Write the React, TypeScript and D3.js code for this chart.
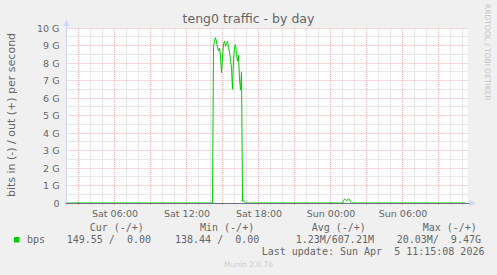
import React from "react";
import * as d3 from "d3";

const W = 497;
const H = 275;

const title = "teng0 traffic - by day";
const yLabel = "bits in (-) / out (+) per second";
const sideText = "RRDTOOL / TOBI OETIKER";
const footer = "Munin 2.0.76";

const yTickValues = [0, 1, 2, 3, 4, 5, 6, 7, 8, 9, 10];
const yTickLabels = ["0", "1 G", "2 G", "3 G", "4 G", "5 G", "6 G", "7 G", "8 G", "9 G", "10 G"];

const startTime = "2026-04-04T02:00";
const endTime = "2026-04-05T11:20";
const xLabelTimes = [
  "2026-04-04T06:00",
  "2026-04-04T12:00",
  "2026-04-04T18:00",
  "2026-04-05T00:00",
  "2026-04-05T06:00",
];

// out (+) traffic, in Gbit/s
const outTimes = [
  "2026-04-04T02:00", "2026-04-04T02:55", "2026-04-04T03:00", "2026-04-04T03:05",
  "2026-04-04T14:05", "2026-04-04T14:10", "2026-04-04T14:15", "2026-04-04T14:20",
  "2026-04-04T14:25", "2026-04-04T14:30", "2026-04-04T14:35", "2026-04-04T14:40",
  "2026-04-04T14:45", "2026-04-04T14:50", "2026-04-04T14:55", "2026-04-04T15:00",
  "2026-04-04T15:05", "2026-04-04T15:10", "2026-04-04T15:15", "2026-04-04T15:20",
  "2026-04-04T15:25", "2026-04-04T15:30", "2026-04-04T15:35", "2026-04-04T15:40",
  "2026-04-04T15:45", "2026-04-04T15:50", "2026-04-04T15:55", "2026-04-04T16:00",
  "2026-04-04T16:05", "2026-04-04T16:10", "2026-04-04T16:15", "2026-04-04T16:20",
  "2026-04-04T16:25", "2026-04-04T16:30", "2026-04-04T16:35", "2026-04-04T16:40",
  "2026-04-04T16:45", "2026-04-04T16:50", "2026-04-04T16:55",
  "2026-04-04T23:55", "2026-04-05T00:00", "2026-04-05T00:05",
  "2026-04-05T01:00", "2026-04-05T01:05", "2026-04-05T01:10", "2026-04-05T01:15",
  "2026-04-05T01:20", "2026-04-05T01:25", "2026-04-05T01:30", "2026-04-05T01:35",
  "2026-04-05T01:40", "2026-04-05T01:45", "2026-04-05T11:15",
];
const outValues = [
  0, 0, 0.06, 0,
  0, 0, 8.9, 9.3,
  9.45, 9.2, 8.9, 8.7,
  8.85, 8.4, 7.45, 8.3,
  9.1, 9.25, 8.95, 9.1,
  9.24, 8.9, 8.6, 8.2,
  7.7, 6.5, 8.2, 8.9,
  9.05, 8.5, 8.1, 8.45,
  7.1, 6.45, 7.5, 0.1,
  0.15, 0.05, 0,
  0, 0.06, 0,
  0, 0.15, 0.22, 0.2,
  0.12, 0.2, 0.22, 0.2,
  0.05, 0, 0,
];

const seriesName = "bps";
const legendHeaders = ["Cur (-/+)", "Min (-/+)", "Avg (-/+)", "Max (-/+)"];
const legendValues = ["149.55 /  0.00", "138.44 /  0.00", "1.23M/607.21M", "20.03M/  9.47G"];
const lastUpdate = "Last update: Sun Apr  5 11:15:08 2026";

const headerX = [89.7, 200, 311.7, 422.7];
const valueX = [66.7, 175, 295.7, 396.7];

export default function App() {
  const left = 66.5;
  const right = 466.5;
  const top = 28;
  const bottom = 203;

  const x = d3.scaleTime().domain([new Date(startTime), new Date(endTime)]).range([left, right]);
  const y = d3.scaleLinear().domain([0, 10]).range([bottom, top]);

  const hourTicks = d3.timeHour.every(1)!.range(new Date(startTime), new Date(endTime));
  const minorV = hourTicks.filter((d) => d.getHours() % 3 !== 0);
  const majorV = hourTicks.filter((d) => d.getHours() % 3 === 0);
  const halfTicks = d3.range(0.5, 10, 1);
  const fmt = d3.timeFormat("%a %H:%M");

  const pts = outTimes.map((t, i) => ({ t: new Date(t), v: outValues[i] }));
  const line = d3
    .line<{ t: Date; v: number }>()
    .x((d) => x(d.t))
    .y((d) => y(d.v));

  const sans = "'DejaVu Sans', sans-serif";
  const mono = "'DejaVu Sans Mono', monospace";
  const fontColor = "#666666";
  const pre = { whiteSpace: "pre" as const };

  const px = (v: number) => Math.round(v - 0.5) + 0.5;

  return (
    <svg width={W} height={H} style={{ position: "absolute", left: 0, top: 0, display: "block" }}>
      <rect x={0} y={0} width={W} height={H} fill="#f0f0f0" />
      <rect x={left} y={top} width={right - left + 1} height={bottom - top} fill="#ffffff" />

      {/* minor grid */}
      <g stroke="#d2d2d2" strokeWidth={1} strokeDasharray="1 1">
        {halfTicks.map((v) => (
          <line key={"hm" + v} x1={left} x2={right + 1} y1={px(y(v))} y2={px(y(v))} />
        ))}
        {minorV.map((d, i) => (
          <line key={"vm" + i} x1={px(x(d))} x2={px(x(d))} y1={top} y2={bottom + 2} />
        ))}
      </g>
      {/* major grid */}
      <g stroke="#eab0b0" strokeWidth={1} strokeDasharray="1 1">
        {yTickValues.map((v) => (
          <line key={"hM" + v} x1={left} x2={right + 1} y1={px(y(v))} y2={px(y(v))} />
        ))}
        {majorV.map((d, i) => (
          <line key={"vM" + i} x1={px(x(d))} x2={px(x(d))} y1={top} y2={bottom + 2} />
        ))}
      </g>

      {/* data */}
      <path d={line(pts) || ""} fill="none" stroke="#00cc00" strokeWidth={1} />

      {/* axes */}
      <line x1={left} x2={left} y1={22} y2={bottom + 3} stroke="#cfd6f8" strokeWidth={1} />
      <path d={`M${left - 3},26 L${left + 3},26 L${left},20 Z`} fill="#cfd6f8" />
      <line x1={left - 1} x2={470} y1={px(y(0))} y2={px(y(0))} stroke="#707080" strokeWidth={1} />
      <path d={`M469.5,200 L469.5,206.5 L475.5,203.2 Z`} fill="#cfd6f8" />

      {/* y tick labels */}
      <g fontFamily={sans} fontSize={9.5} fill={fontColor} textAnchor="end">
        {yTickValues.map((v, i) => (
          <text key={"yl" + v} x={59.5} y={y(v) + 3.5}>
            {yTickLabels[i]}
          </text>
        ))}
      </g>
      {/* x tick labels */}
      <g fontFamily={sans} fontSize={9.5} fill={fontColor} textAnchor="middle">
        {xLabelTimes.map((t) => (
          <text key={t} x={x(new Date(t)) + 0.5} y={216.5}>
            {fmt(new Date(t))}
          </text>
        ))}
      </g>

      {/* title */}
      <text x={W / 2} y={22.5} textAnchor="middle" fontFamily={sans} fontSize={12.5} fill={fontColor}>
        {title}
      </text>
      {/* y label */}
      <text
        transform={`translate(14.5, 115) rotate(-90)`}
        textAnchor="middle"
        fontFamily={sans}
        fontSize={11}
        fill={fontColor}
      >
        {yLabel}
      </text>
      {/* side watermark */}
      <text transform={`translate(484.5, 4) rotate(90)`} fontFamily={sans} fontSize={7.5} fill="#c4c4c4">
        {sideText}
      </text>

      {/* legend */}
      <g fontFamily={mono} fontSize={10} fill={fontColor}>
        {legendHeaders.map((h, i) => (
          <text key={h} x={headerX[i]} y={230.5} xmlSpace="preserve" style={pre}>
            {h}
          </text>
        ))}
        <rect x={14} y={237} width={5.5} height={5.5} fill="#00cc00" />
        <text x={27} y={242.5}>
          {seriesName}
        </text>
        {legendValues.map((v, i) => (
          <text key={"lv" + i} x={valueX[i]} y={242.5} xmlSpace="preserve" style={pre}>
            {v}
          </text>
        ))}
        <text x={261.7} y={254.5} xmlSpace="preserve" style={pre}>
          {lastUpdate}
        </text>
      </g>
      <text x={W / 2} y={267} textAnchor="middle" fontFamily={sans} fontSize={7.5} fill="#cccccc">
        {footer}
      </text>
    </svg>
  );
}
